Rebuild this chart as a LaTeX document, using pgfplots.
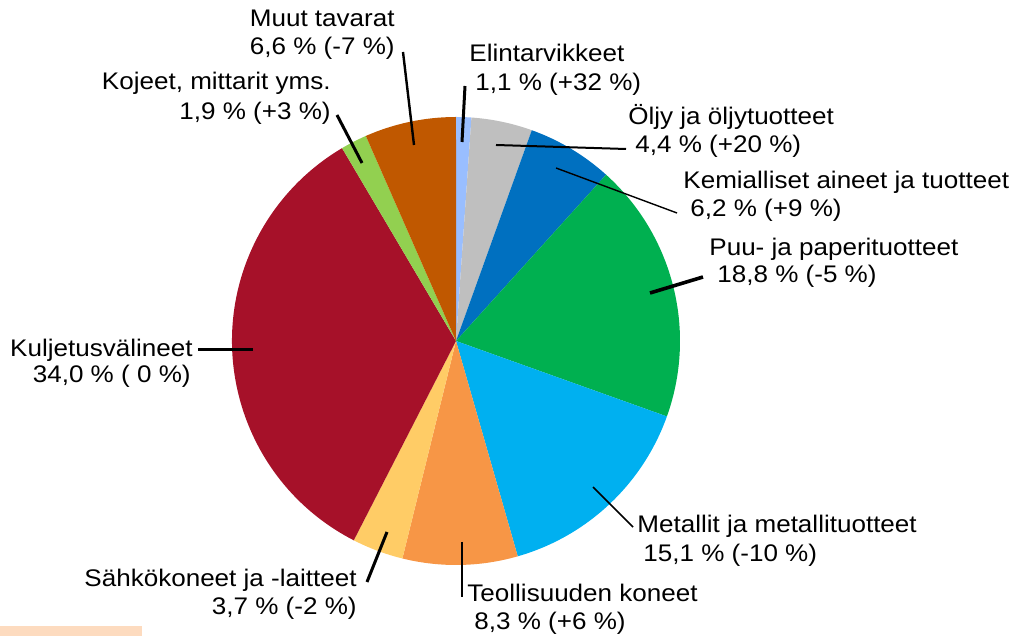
\documentclass[border=0pt]{standalone}
\usepackage{pgfplots}
\pgfplotsset{compat=1.18}
\usepackage{fontspec}
\setmainfont{Liberation Sans}[FakeStretch=1.085]
\definecolor{cElin}{RGB}{153,190,255}
\definecolor{cOljy}{RGB}{191,191,191}
\definecolor{cKemi}{RGB}{0,112,192}
\definecolor{cPuu}{RGB}{0,176,80}
\definecolor{cMet}{RGB}{0,176,240}
\definecolor{cTeol}{RGB}{247,150,70}
\definecolor{cSahk}{RGB}{255,204,102}
\definecolor{cKulj}{RGB}{166,17,41}
\definecolor{cKoj}{RGB}{146,208,80}
\definecolor{cMuut}{RGB}{192,88,0}
\definecolor{peach}{RGB}{253,219,191}
% slice shares (%), clockwise from 12 o'clock; total 100.1
\gdef\slices{}
\gdef\cum{0}
\foreach \v/\c in {1.1/cElin,4.4/cOljy,6.2/cKemi,18.8/cPuu,15.1/cMet,8.3/cTeol,3.7/cSahk,34.0/cKulj,1.9/cKoj,6.6/cMuut}{
  \pgfmathsetmacro\a{90-3.6*\cum/1.001}
  \pgfmathsetmacro\newcum{\cum+\v}
  \pgfmathsetmacro\b{90-3.6*\newcum/1.001}
  \xdef\slices{\slices\noexpand\fill[\c] (axis cs:456,295) -- ++(\a:112pt) arc[start angle=\a,end angle=\b,radius=112pt] -- cycle;}
  \xdef\cum{\newcum}
}
\begin{document}
\begin{tikzpicture}
\begin{axis}[name=ax,width=508.5pt,height=318pt,scale only axis,
  xmin=0,xmax=1017,ymin=0,ymax=636,hide axis,clip=false]
\coordinate (bl) at (rel axis cs:0,0);
\coordinate (tr) at (rel axis cs:1,1);
\fill[peach] (axis cs:0,0) rectangle (axis cs:142,10);
\slices
% leader lines
\draw[line width=1.5pt] (axis cs:465,550) -- (axis cs:462,494);
\draw[line width=1pt] (axis cs:496,491) -- (axis cs:626,487);
\draw[line width=0.7pt] (axis cs:556,468) -- (axis cs:677,423);
\draw[line width=1.8pt] (axis cs:650,343) -- (axis cs:703,359);
\draw[line width=0.8pt] (axis cs:593,149) -- (axis cs:633,109);
\draw[line width=1pt] (axis cs:462,94) -- (axis cs:462,39);
\draw[line width=1.5pt] (axis cs:387,104) -- (axis cs:367,54);
\draw[line width=1.5pt] (axis cs:198,286) -- (axis cs:253,286);
\draw[line width=1.5pt] (axis cs:337,521) -- (axis cs:362,473);
\draw[line width=1.2pt] (axis cs:403,584) -- (axis cs:414,491);
% labels
\tikzset{lab/.style={font=\fontsize{12}{14}\selectfont,inner sep=0pt}}
\node[lab,anchor=base east] at (axis cs:395,609) {Muut tavarat};
\node[lab,anchor=base east] at (axis cs:395,581) {6,6 \% (-7 \%)};
\node[lab,anchor=base east] at (axis cs:331,546) {Kojeet, mittarit yms.};
\node[lab,anchor=base east] at (axis cs:331,516) {1,9 \% (+3 \%)};
\node[lab,anchor=base west] at (axis cs:469,574) {Elintarvikkeet};
\node[lab,anchor=base west] at (axis cs:475,545) {1,1 \% (+32 \%)};
\node[lab,anchor=base west] at (axis cs:628,511) {Öljy ja öljytuotteet};
\node[lab,anchor=base west] at (axis cs:635,483) {4,4 \% (+20 \%)};
\node[lab,anchor=base west] at (axis cs:683,447) {Kemialliset aineet ja tuotteet};
\node[lab,anchor=base west] at (axis cs:690,419) {6,2 \% (+9 \%)};
\node[lab,anchor=base west] at (axis cs:709,380) {Puu- ja paperituotteet};
\node[lab,anchor=base west] at (axis cs:717,353) {18,8 \% (-5 \%)};
\node[lab,anchor=base east] at (axis cs:193,279) {Kuljetusvälineet};
\node[lab,anchor=base east] at (axis cs:191,253) {34,0 \% ( 0 \%)};
\node[lab,anchor=base west] at (axis cs:637,103) {Metallit ja metallituotteet};
\node[lab,anchor=base west] at (axis cs:643,74) {15,1 \% (-10 \%)};
\node[lab,anchor=base west] at (axis cs:467,34) {Teollisuuden koneet};
\node[lab,anchor=base west] at (axis cs:474,6) {8,3 \% (+6 \%)};
\node[lab,anchor=base east] at (axis cs:357,49) {Sähkökoneet ja -laitteet};
\node[lab,anchor=base east] at (axis cs:357,21) {3,7 \% (-2 \%)};
\end{axis}
\pgfresetboundingbox
\path (bl) rectangle (tr);
\end{tikzpicture}
\end{document}
